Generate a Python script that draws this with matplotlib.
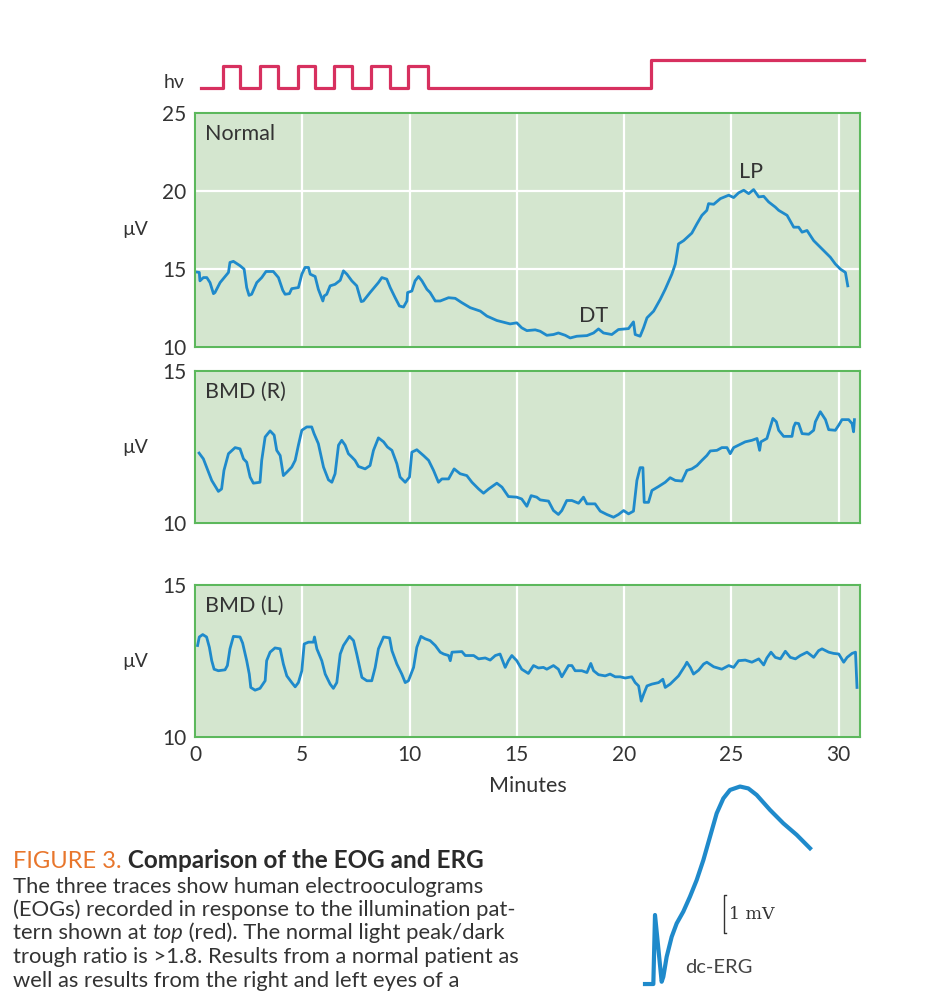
import matplotlib
matplotlib.use('Agg')
import matplotlib.pyplot as plt

plt.rcParams['font.family'] = ['Lato', 'DejaVu Sans']

# Illumination pattern (minutes where the light changes, level after change)
light_t = [0.27, 1.30, 2.10, 3.02, 3.87, 4.78, 5.60, 6.46, 7.32, 8.21, 9.08, 9.94, 10.87, 21.28, 31.2]
light_level = [0, 1, 0, 1, 0, 1, 0, 1, 0, 1, 0, 1, 0, 1.28, 1.28]

# Normal EOG (minutes, microvolts)
normal_t = [0, 0.2, 0.23, 0.39, 0.55, 0.7, 0.86, 0.93, 1.17, 1.4, 1.56, 1.63, 1.79, 2.1, 2.29,
            2.41, 2.52, 2.64, 2.88, 3.11, 3.31, 3.65, 3.89, 4.09, 4.2, 4.4, 4.51, 4.82, 4.98,
            5.13, 5.29, 5.37, 5.6, 5.75, 5.96, 6.02, 6.14, 6.3, 6.53, 6.77, 6.92, 7.08, 7.31,
            7.54, 7.75, 7.85, 8.16, 8.55, 8.71, 8.94, 9.1, 9.33, 9.53, 9.72, 9.88, 9.91, 10.11,
            10.26, 10.42, 10.58, 10.81, 10.96, 11.2, 11.43, 11.82, 12.13, 12.44, 12.83, 13.3,
            13.61, 14.07, 14.69, 15.0, 15.23, 15.47, 15.86, 16.09, 16.4, 16.71, 16.94, 17.26,
            17.49, 17.8, 18.27, 18.58, 18.81, 19.04, 19.43, 19.74, 20.21, 20.44, 20.52, 20.75,
            20.91, 21.07, 21.38, 21.69, 21.92, 22.23, 22.39, 22.54, 22.78, 23.16, 23.4, 23.63,
            23.86, 23.94, 24.18, 24.49, 24.88, 25.11, 25.34, 25.58, 25.81, 26.04, 26.28, 26.51,
            26.74, 27.05, 27.21, 27.6, 27.91, 28.14, 28.3, 28.53, 28.84, 29.23, 29.62, 29.85,
            30.09, 30.32, 30.43]
normal_uv = [14.82, 14.78, 14.24, 14.45, 14.45, 14.13, 13.42, 13.49, 14.13, 14.52, 14.78, 15.42,
             15.49, 15.21, 14.99, 13.81, 13.31, 13.38, 14.13, 14.45, 14.84, 14.84, 14.45, 13.64,
             13.38, 13.42, 13.74, 13.81, 14.67, 15.1, 15.1, 14.67, 14.52, 13.7, 12.95, 13.27,
             13.38, 13.92, 14.02, 14.28, 14.88, 14.67, 14.24, 13.92, 12.91, 12.95, 13.49, 14.13,
             14.45, 14.35, 13.81, 13.16, 12.63, 12.56, 12.95, 13.49, 13.59, 14.24, 14.52, 14.24,
             13.7, 13.49, 12.95, 12.95, 13.16, 13.12, 12.84, 12.52, 12.3, 11.98, 11.7, 11.48,
             11.55, 11.23, 11.05, 11.1, 11.01, 10.75, 10.8, 10.9, 10.75, 10.58, 10.69, 10.73,
             10.9, 11.16, 10.9, 10.8, 11.12, 11.18, 11.61, 10.8, 10.69, 11.23, 11.87, 12.3,
             13.06, 13.7, 14.67, 15.32, 16.61, 16.82, 17.3, 17.9, 18.44, 18.76, 19.19, 19.15,
             19.51, 19.73, 19.58, 19.88, 20.05, 19.83, 20.09, 19.62, 19.66, 19.3, 18.97, 18.76,
             18.44, 17.68, 17.68, 17.36, 17.47, 16.82, 16.28, 15.75, 15.32, 14.99, 14.78, 13.92]

# Best macular dystrophy, right eye
bmd_r_t = [0.19, 0.39, 0.54, 0.78, 1.09, 1.24, 1.35, 1.56, 1.87, 2.1, 2.26, 2.41, 2.57, 2.72,
           3.03, 3.11, 3.27, 3.5, 3.69, 3.81, 3.97, 4.12, 4.28, 4.51, 4.67, 4.82, 4.98, 5.21,
           5.44, 5.55, 5.75, 5.99, 6.22, 6.38, 6.53, 6.69, 6.84, 7.0, 7.15, 7.31, 7.46, 7.62,
           7.93, 8.16, 8.32, 8.55, 8.79, 8.97, 9.18, 9.41, 9.56, 9.8, 10.0, 10.11, 10.34, 10.65,
           10.89, 11.12, 11.35, 11.51, 11.82, 12.08, 12.36, 12.67, 12.91, 13.22, 13.45, 13.69,
           14.07, 14.31, 14.61, 15.0, 15.23, 15.47, 15.67, 15.93, 16.09, 16.48, 16.71, 16.94,
           17.1, 17.33, 17.57, 17.88, 18.11, 18.27, 18.65, 18.89, 19.2, 19.51, 19.74, 19.98,
           20.21, 20.44, 20.6, 20.75, 20.88, 20.94, 21.14, 21.3, 21.61, 21.92, 22.15, 22.39,
           22.7, 22.93, 23.16, 23.4, 23.63, 23.86, 24.02, 24.33, 24.56, 24.8, 24.95, 25.11,
           25.34, 25.65, 25.96, 26.2, 26.32, 26.38, 26.66, 26.82, 26.94, 27.1, 27.21, 27.44,
           27.83, 27.91, 27.99, 28.14, 28.3, 28.61, 28.84, 28.92, 29.15, 29.39, 29.54, 29.85,
           30.01, 30.16, 30.47, 30.63, 30.7, 30.74]
bmd_r_uv = [12.3, 12.11, 11.84, 11.4, 11.04, 11.12, 11.73, 12.28, 12.48, 12.44, 12.11, 12.0,
            11.51, 11.31, 11.34, 12.06, 12.83, 13.03, 12.89, 12.39, 12.22, 11.56, 11.67, 11.84,
            12.06, 12.56, 13.05, 13.16, 13.16, 12.94, 12.61, 11.84, 11.42, 11.34, 11.62, 12.56,
            12.72, 12.56, 12.28, 12.17, 12.06, 11.86, 11.78, 11.89, 12.39, 12.8, 12.67, 12.5,
            12.39, 11.95, 11.51, 11.34, 11.51, 12.33, 12.41, 12.22, 12.06, 11.73, 11.34, 11.45,
            11.45, 11.78, 11.62, 11.56, 11.34, 11.12, 10.98, 11.12, 11.31, 11.18, 10.87, 10.85,
            10.79, 10.55, 10.9, 10.85, 10.76, 10.72, 10.41, 10.28, 10.41, 10.74, 10.74, 10.65,
            10.85, 10.63, 10.63, 10.39, 10.28, 10.19, 10.28, 10.41, 10.3, 10.39, 11.4, 11.82,
            11.82, 10.68, 10.68, 11.07, 11.2, 11.34, 11.49, 11.4, 11.38, 11.73, 11.78, 11.89,
            12.06, 12.22, 12.37, 12.39, 12.48, 12.48, 12.28, 12.48, 12.56, 12.67, 12.72, 12.78,
            12.39, 12.67, 12.78, 13.16, 13.44, 13.33, 13.05, 12.85, 12.85, 13.16, 13.29, 13.27,
            12.94, 12.92, 13.05, 13.33, 13.66, 13.4, 13.07, 13.05, 13.22, 13.4, 13.4, 13.27,
            13.0, 13.4]

# Best macular dystrophy, left eye
bmd_l_t = [0.12, 0.2, 0.36, 0.54, 0.67, 0.78, 0.89, 1.09, 1.4, 1.51, 1.63, 1.79, 2.1, 2.22,
           2.41, 2.53, 2.6, 2.8, 3.03, 3.27, 3.34, 3.5, 3.73, 3.97, 4.12, 4.28, 4.51, 4.67,
           4.82, 4.98, 5.09, 5.29, 5.52, 5.57, 5.68, 5.91, 6.07, 6.3, 6.45, 6.61, 6.77, 6.92,
           7.2, 7.39, 7.54, 7.78, 8.01, 8.24, 8.4, 8.55, 8.79, 9.07, 9.18, 9.41, 9.64, 9.8,
           9.95, 10.19, 10.34, 10.53, 10.73, 10.96, 11.2, 11.43, 11.59, 11.82, 11.9, 11.98,
           12.44, 12.6, 12.99, 13.22, 13.53, 13.76, 14.0, 14.22, 14.46, 14.61, 14.77, 15.0,
           15.23, 15.54, 15.78, 16.01, 16.24, 16.4, 16.71, 16.94, 17.1, 17.41, 17.57, 17.72,
           18.03, 18.27, 18.45, 18.58, 18.81, 19.12, 19.35, 19.59, 19.82, 20.05, 20.36, 20.52,
           20.68, 20.8, 20.91, 21.07, 21.3, 21.61, 21.81, 21.92, 22.15, 22.31, 22.54, 22.85,
           22.93, 23.09, 23.24, 23.48, 23.71, 23.86, 24.18, 24.56, 24.88, 25.11, 25.34, 25.65,
           25.96, 26.28, 26.51, 26.66, 26.85, 27.05, 27.29, 27.52, 27.75, 27.99, 28.22, 28.53,
           28.84, 29.07, 29.23, 29.54, 29.77, 30.01, 30.24, 30.4, 30.63, 30.79, 30.86]
bmd_l_uv = [13.01, 13.29, 13.37, 13.29, 12.95, 12.51, 12.23, 12.18, 12.21, 12.35, 12.9, 13.31,
            13.29, 13.09, 12.51, 12.07, 11.63, 11.54, 11.6, 11.85, 12.51, 12.79, 12.93, 12.9,
            12.4, 12.01, 11.79, 11.65, 11.79, 12.18, 13.06, 13.12, 13.12, 13.29, 12.9, 12.51,
            12.07, 11.74, 11.6, 11.79, 12.73, 13.01, 13.31, 13.17, 12.73, 11.96, 11.85, 11.85,
            12.29, 12.9, 13.29, 13.26, 12.84, 12.4, 12.07, 11.79, 11.85, 12.29, 12.95, 13.31,
            13.23, 13.17, 13.01, 12.79, 12.73, 12.68, 12.51, 12.79, 12.81, 12.68, 12.68, 12.57,
            12.6, 12.53, 12.68, 12.73, 12.29, 12.51, 12.68, 12.51, 12.23, 12.09, 12.35, 12.27,
            12.29, 12.23, 12.35, 12.23, 11.98, 12.35, 12.35, 12.18, 12.18, 12.12, 12.42, 12.18,
            12.05, 12.01, 12.07, 11.98, 11.98, 11.94, 11.98, 11.79, 11.68, 11.18, 11.4, 11.68,
            11.74, 11.79, 11.9, 11.63, 11.74, 11.85, 12.01, 12.35, 12.46, 12.29, 12.07, 12.2,
            12.4, 12.46, 12.31, 12.23, 12.35, 12.29, 12.51, 12.53, 12.46, 12.57, 12.37, 12.6,
            12.79, 12.62, 12.57, 12.82, 12.62, 12.57, 12.68, 12.79, 12.62, 12.84, 12.9, 12.79,
            12.75, 12.73, 12.46, 12.62, 12.75, 12.79, 11.63]

# dc-ERG trace (arbitrary time units, mV)
erg_t = [0, 0.5, 0.6, 1.0, 1.1, 1.3, 1.6, 1.9, 2.3, 2.7, 3.1, 3.5, 3.9, 4.3, 4.7, 5.1, 5.7,
         6.2, 6.7, 7.5, 8.3, 9.1, 9.9]
erg_mv = [0, 0, 1.8, 0.06, 0.19, 0.71, 1.23, 1.58, 1.89, 2.28, 2.71, 3.23, 3.84, 4.45, 4.84,
          5.06, 5.15, 5.1, 4.93, 4.54, 4.19, 3.89, 3.54]

panels = [
    ("Normal", normal_t, normal_uv, [10, 15, 20, 25]),
    ("BMD (R)", bmd_r_t, bmd_r_uv, [10, 15]),
    ("BMD (L)", bmd_l_t, bmd_l_uv, [10, 15]),
]

W, H = 929, 994
TEXT = '#333333'
BLUE = '#1f8acb'
RED = '#d7305f'
ORANGE = '#e8762c'

fig = plt.figure(figsize=(W / 100, H / 100), dpi=100)


def px_axes(x0, y0, x1, y1):
    return fig.add_axes([x0 / W, 1 - y1 / H, (x1 - x0) / W, (y1 - y0) / H])


# light stimulus
ax_s = px_axes(195, 50, 860, 100)
ax_s.plot(light_t, light_level, drawstyle='steps-post', color=RED, lw=2.3, clip_on=False)
ax_s.set_xlim(0, 31)
ax_s.set_ylim(-0.545, 1.727)
ax_s.axis('off')
fig.text(185 / W, 1 - 83 / H, "hν", ha='right', va='center', fontsize=14, color=TEXT)

boxes = [(113, 347), (371, 523), (585, 737)]
axes = []
for (name, t, uv, yt), (top, bot) in zip(panels, boxes):
    ax = px_axes(195, top, 860, bot)
    ax.plot(t, uv, color=BLUE, lw=2.0)
    ax.set_facecolor('#d4e6cf')
    for sp in ax.spines.values():
        sp.set_color('#5cb85c')
        sp.set_linewidth(1.5)
    ax.set_xlim(0, 31)
    ax.set_ylim(yt[0], yt[-1])
    ax.set_yticks(yt)
    ax.set_xticks(range(0, 31, 5))
    ax.set_axisbelow(True)
    ax.grid(color='white', lw=1.6)
    ax.tick_params(length=0, labelsize=15, colors=TEXT, pad=6)
    ax.set_ylabel("µV", rotation=0, fontsize=14, color=TEXT, ha='center', va='center')
    ax.yaxis.set_label_coords(-0.09, 0.5)
    ax.annotate(name, xy=(0, 1), xycoords='axes fraction', xytext=(10, -27),
                textcoords='offset pixels', va='baseline', fontsize=15.5, color=TEXT)
    axes.append(ax)

for ax in axes[:-1]:
    ax.tick_params(labelbottom=False)
axes[-1].set_xlabel("Minutes", fontsize=15.5, color=TEXT, labelpad=8)

axes[0].text(18.57, 11.6, "DT", ha='center', va='baseline', fontsize=15.5, color=TEXT)
axes[0].text(25.94, 20.83, "LP", ha='center', va='baseline', fontsize=15.5, color=TEXT)

# dc-ERG inset
ax_e = px_axes(630, 780, 830, 994)
ax_e.plot(erg_t, erg_mv, color=BLUE, lw=3.0, solid_joinstyle='round')
ax_e.plot([4.88, 4.76, 4.76, 4.88], [1.32, 1.32, 2.32, 2.32], color=TEXT, lw=1)
ax_e.text(5.05, 1.82, "1 mV", family='DejaVu Serif', fontsize=12.5, va='center', color=TEXT)
ax_e.text(2.4, 0.44, "dc-ERG", fontsize=14.5, va='center', color='#444444')
ax_e.set_xlim(-0.9, 11.1)
ax_e.set_ylim(-0.26, 5.32)
ax_e.axis('off')

# caption
cap = fig.add_axes([0, 0, 1, 1])
cap.axis('off')
cap.set_zorder(-1)
FS = 15.8
t1 = cap.text(13 / W, 1 - 868 / H, "FIGURE 3.", color=ORANGE, fontsize=17, va='baseline')
cap.annotate(" Comparison of the EOG and ERG", xy=(1, 0), xycoords=t1, va='bottom',
             fontsize=17.5, fontweight='bold', color='#2a2a2a')
lines = [
    "The three traces show human electrooculograms",
    "(EOGs) recorded in response to the illumination pat-",
    None,
    "trough ratio is >1.8. Results from a normal patient as",
    "well as results from the right and left eyes of a",
]
base = [893, 916, 939, 963, 987]
for s, b in zip(lines, base):
    if s is not None:
        cap.text(13 / W, 1 - b / H, s, fontsize=FS, color=TEXT, va='baseline')
p1 = cap.text(13 / W, 1 - base[2] / H, "tern shown at ", fontsize=FS, color=TEXT, va='baseline')
p2 = cap.annotate("top", xy=(1, 0), xycoords=p1, va='bottom', fontsize=FS,
                  style='italic', color=TEXT)
cap.annotate(" (red). The normal light peak/dark", xy=(1, 0), xycoords=p2, va='bottom',
             fontsize=FS, color=TEXT)

fig.savefig('out.png', dpi=100)
